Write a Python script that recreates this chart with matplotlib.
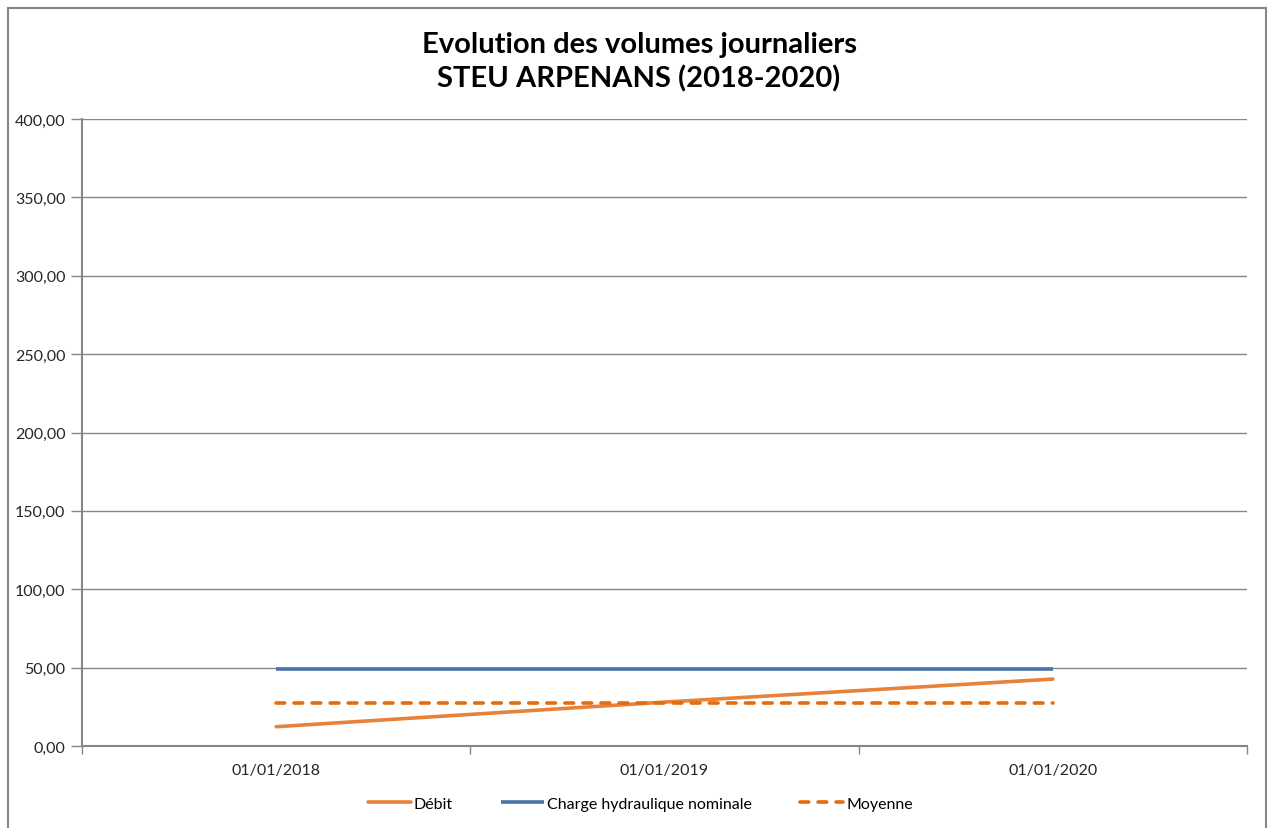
import numpy as np
import matplotlib.pyplot as plt
from matplotlib.patches import Rectangle
from matplotlib.ticker import FuncFormatter

plt.rcParams['font.family'] = ['Lato', 'DejaVu Sans']

# Data
dates = ["01/01/2018", "01/01/2019", "01/01/2020"]
debit = [12.3, 28.0, 42.7]
charge_nominale = [49.0, 49.0, 49.0]
moyenne = [27.7, 27.7, 27.7]
y_ticks = [0, 50, 100, 150, 200, 250, 300, 350, 400]

W, H = 1268, 829
fig = plt.figure(figsize=(W / 100, H / 100), dpi=100)
ax = fig.add_axes([82 / W, 1 - 747 / H, (1247 - 82) / W, (747 - 120) / H])

# outer chart border
fig.patches.append(Rectangle((8 / W, -0.05), (1266 - 8) / W, 1 - 9 / H + 0.05,
                             transform=fig.transFigure, fill=False,
                             edgecolor="#868686", linewidth=1.5))

x = np.arange(len(dates))
ax.plot(x, debit, color="#E8823A", linewidth=2.6, solid_capstyle="round", label="Débit")
ax.plot(x, charge_nominale, color="#4A72AA", linewidth=2.6, solid_capstyle="butt",
        label="Charge hydraulique nominale")
ax.plot(x, moyenne, color="#E46C0A", linewidth=2.6, linestyle=(0, (2.4, 2.6)),
        dash_capstyle="round", label="Moyenne")

ax.set_xlim(-0.5, len(dates) - 0.5)
ax.set_ylim(0, 400)
ax.set_yticks(y_ticks)
ax.yaxis.set_major_formatter(FuncFormatter(lambda v, p: f"{v:.2f}".replace(".", ",")))
ax.grid(axis="y", color="#868686", linewidth=1)
ax.set_axisbelow(True)

# category axis: ticks between categories, labels at centres
ax.set_xticks(np.arange(-0.5, len(dates), 1.0))
ax.set_xticklabels([])
ax.set_xticks(x, minor=True)
ax.set_xticklabels(dates, minor=True)
ax.tick_params(axis="x", which="minor", length=0, pad=12, labelsize=11.5, labelcolor="#262626")
ax.tick_params(axis="x", which="major", length=6, color="#868686", width=1)
ax.tick_params(axis="y", length=8, color="#868686", width=1, labelsize=11.5,
               labelcolor="#262626", pad=4)

for s in ["top", "right"]:
    ax.spines[s].set_visible(False)
for s in ["left", "bottom"]:
    ax.spines[s].set_color("#868686")
    ax.spines[s].set_linewidth(1.5)

fig.text(0.504, 1 - 62 / H, "Evolution des volumes journaliers\nSTEU ARPENANS (2018-2020)",
         ha="center", va="center", fontsize=21, fontweight="bold", linespacing=1.35)

fig.legend(loc="center", bbox_to_anchor=(0.505, 1 - 805 / H), ncol=3, frameon=False,
           fontsize=11.5, handlelength=2.7, handletextpad=0.2, columnspacing=3.0)

plt.savefig("out.png", dpi=100)
